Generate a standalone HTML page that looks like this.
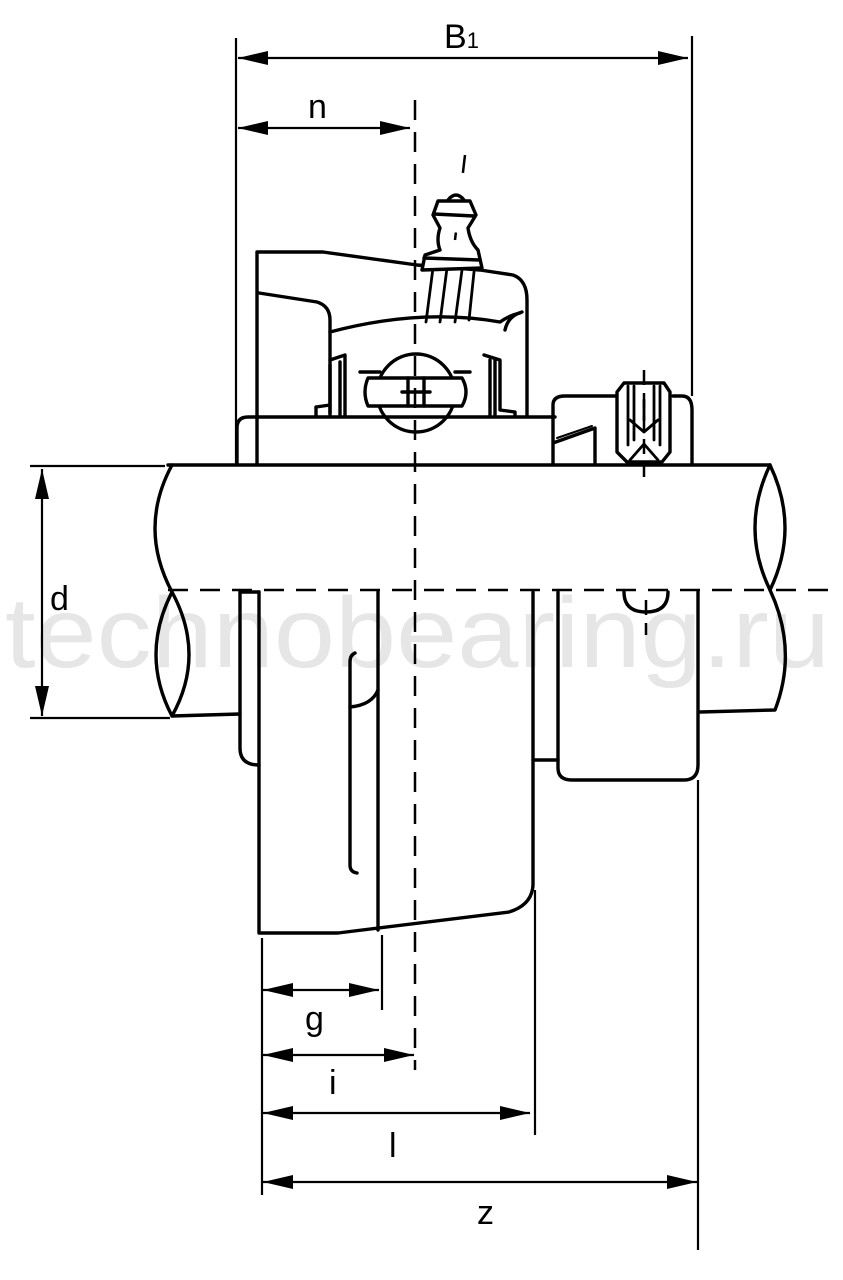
<!DOCTYPE html>
<html><head><meta charset="utf-8"><style>
html,body{margin:0;padding:0;background:#fff}
svg{display:block}
text{font-family:"Liberation Sans",Arial,sans-serif}
</style></head><body>
<svg width="843" height="1280" viewBox="0 0 843 1280" xmlns="http://www.w3.org/2000/svg">
<defs>
<marker id="a" viewBox="0 0 30 14" refX="30" refY="7" markerWidth="30" markerHeight="14" markerUnits="userSpaceOnUse" orient="auto-start-reverse"><path d="M0,0 L30,7 L0,14 Z" fill="#000"/></marker>
</defs>
<text x="5" y="667" font-size="100" fill="#e6e6e6" textLength="825" lengthAdjust="spacingAndGlyphs">technobearing.ru</text>

<g fill="none" stroke="#000" stroke-width="3.4" stroke-linejoin="round" stroke-linecap="round">
<path d="M257,463 L257,252 L323,252 L417,265 L480,270 L513,275 Q527,280 527,300 L527,415"/>
<path d="M259,293 L317,302 Q330,306 330,320 L330,413"/>
<path d="M330,332 Q420,308 500,322 Q510,315 520,313"/>
<path d="M505,330 Q508,316 522,312"/>
<path d="M316,415 L316,407 L330,405 M330,360 L345,355 L345,415 M330,365 L330,415 M340,362 L340,415"/>
<path d="M484,355 L500,360 L500,410 L515,412 L515,415 M490,360 L490,415 M495,360 L495,415"/>
<path d="M360,372 L380,372 M455,372 L470,372"/>
<circle cx="416" cy="393" r="39" fill="#fff"/>
<path d="M368,378 L462,378 Q470,392 462,406 L368,406 Q362,392 368,378 Z" fill="#fff"/>
<path d="M408,378 L408,406 M424,378 L424,406 M402,392 L430,392"/>
<path d="M426,322 L433,268 M440,322 L447,268 M455,322 L462,270 M469,320 L474,272" stroke-width="2.8"/>
<path d="M422,270 L425,255 L440,250 Q436,240 440,228 L433,215 L438,201 L470,201 L476,215 L468,228 Q470,242 478,250 L482,268 Z" fill="#fff"/>
<path d="M434,214 L474,216 M424,258 L480,260"/>
<path d="M448,200 Q456,190 464,200"/>
<path d="M237,463 L237,428 Q237,417 248,417 L555,417"/>
<path d="M553,463 L553,443 L595,428 L595,463 M553,443 L553,405 Q553,396 565,396 L618,396 M673,396 L682,396 Q692,396 692,410 L692,463"/>
<path d="M557,438 L592,426" stroke-width="2"/>
<path d="M624,383 L664,383 L670,392 L670,452 L662,462 L627,462 L617,452 L617,392 Z" fill="#fff"/>
<path d="M628,386 L628,445 M634,386 L634,440 M654,386 L654,440 M660,386 L660,445 M644,400 L644,420 M630,420 L644,432 L658,420 M630,460 L644,444 L658,460" stroke-width="2.8"/>
<path d="M168,465 L770,465"/>
<path d="M172,465 Q138,528 172,592 Q206,655 172,716 L240,714"/>
<path d="M172,592 Q140,655 172,716"/>
<path d="M770,465 Q740,528 770,590 Q800,528 770,465"/>
<path d="M770,590 Q798,650 775,710 L700,712"/>
<path d="M259,592 L259,933 L338,933 L509,912 Q532,905 533,885 L533,592"/>
<path d="M378,592 L378,930"/>
<path d="M240,592 L240,748 Q240,765 259,765"/>
<path d="M240,592 L259,592"/>
<path d="M355,653 Q350,655 350,662 L350,865 Q350,872 357,873"/>
<path d="M350,707 Q372,705 378,690"/>
<path d="M533,760 L558,760 L558,768 Q558,780 572,780 L684,780 Q698,780 698,765 L698,592"/>
<path d="M558,592 L558,760"/>
<path d="M624,592 Q624,612 646,612 Q668,612 668,592"/>
</g>

<g fill="none" stroke="#000" stroke-width="2.5" stroke-dasharray="20,12">
<path d="M415,100 L415,1070"/>
<path d="M168,590 L830,590"/>
<path d="M465,155 L455,240" stroke-dasharray="18,60"/>
<path d="M644,370 L644,480 M646,600 L646,635" stroke-dasharray="15,8"/>
</g>

<g fill="none" stroke="#000" stroke-width="2.2">
<path d="M236,38 L236,465 M692,36 L692,396"/>
<path d="M238,58 L688,58" marker-start="url(#a)" marker-end="url(#a)"/>
<path d="M238,128 L410,128" marker-start="url(#a)" marker-end="url(#a)"/>
<path d="M30,466 L165,466 M30,718 L170,718"/>
<path d="M42,469 L42,716" marker-start="url(#a)" marker-end="url(#a)"/>
<path d="M262,938 L262,1195 M382,935 L382,1010 M535,890 L535,1135 M698,780 L698,1250"/>
<path d="M263,990 L379,990" marker-start="url(#a)" marker-end="url(#a)"/>
<path d="M263,1055 L414,1055" marker-start="url(#a)" marker-end="url(#a)"/>
<path d="M263,1113 L530,1113" marker-start="url(#a)" marker-end="url(#a)"/>
<path d="M263,1182 L697,1182" marker-start="url(#a)" marker-end="url(#a)"/>
</g>

<g fill="#000" font-size="34">
<text x="444" y="48">B<tspan font-size="22">1</tspan></text>
<text x="308" y="118">n</text>
<text x="50" y="610">d</text>
<text x="305" y="1030">g</text>
<text x="329" y="1094">i</text>
<text x="389" y="1157">l</text>
<text x="477" y="1224">z</text>
</g>
</svg>
</body></html>
